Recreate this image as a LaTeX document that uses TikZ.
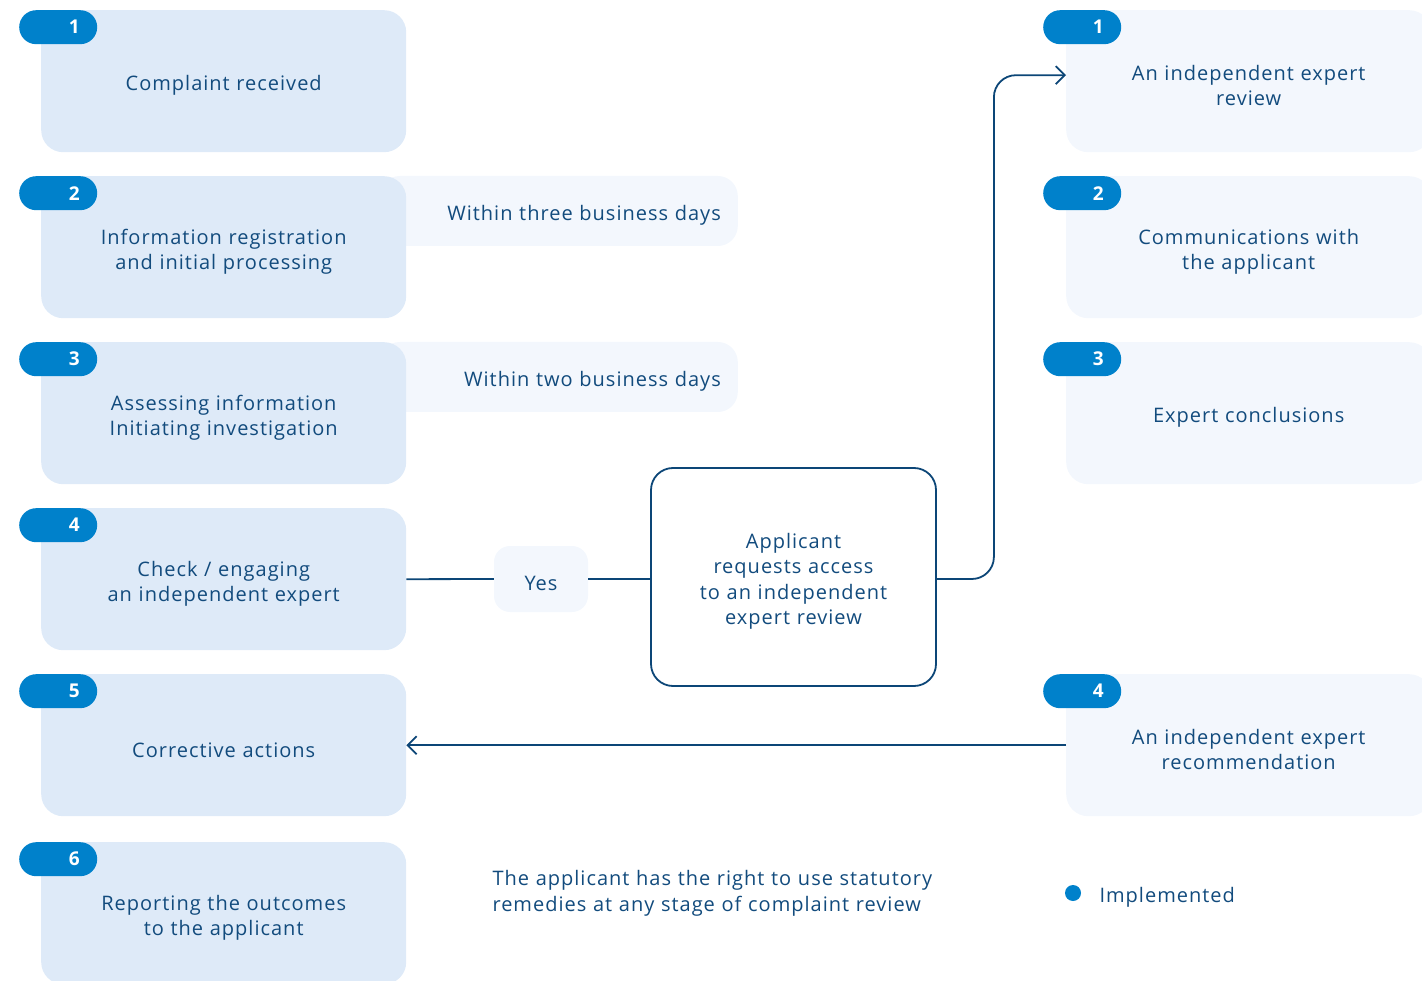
\documentclass[tikz,border=0pt]{standalone}
\usepackage{fontspec}
\setmainfont[LetterSpace=5]{Open Sans}
\usetikzlibrary{arrows.meta,positioning}
\definecolor{stepfill}{HTML}{DEEAF8}
\definecolor{palefill}{HTML}{F3F7FD}
\definecolor{badgeblue}{HTML}{0081CB}
\definecolor{inkblue}{HTML}{124B7D}
\definecolor{lineblue}{HTML}{0C4677}

\begin{document}
\begin{tikzpicture}[
  x=1pt, y=-1pt,
  every node/.style={font=\fontsize{20}{25.5}\selectfont, text=inkblue},
  txt/.style={align=center, execute at begin node={\rule{0pt}{24pt}}},
  stepbox/.style={txt, fill=stepfill, rounded corners=22pt, minimum width=365pt, minimum height=142pt, text width=340pt, anchor=north west, inner sep=0pt},
  expertbox/.style={stepbox, fill=palefill},
  badge/.style={fill=badgeblue, rounded corners=17pt, minimum width=78pt, minimum height=34pt, anchor=north west, inner sep=0pt, text=white, font=\fontsize{19}{22}\selectfont\bfseries},
  note/.style={txt, fill=palefill, rounded corners=20pt, minimum height=70pt, text width=324pt, inner xsep=17pt, align=right, anchor=east},
  flow/.style={draw=lineblue, line width=1.8pt},
  tip/.style={-{Straight Barb[length=9pt, width=18pt, line width=1.8pt]}}]
\useasboundingbox (0,0) rectangle (1422,981);

% side notes (behind the steps)
\node[note] (n2) at (738,211) {Within three business days};
\node[note] (n3) at (738,377) {Within two business days};

% left column
\node[stepbox] (l1) at (41,10)  {Complaint received};
\node[stepbox] (l2) at (41,176) {Information registration\\and initial processing};
\node[stepbox] (l3) at (41,342) {Assessing information\\Initiating investigation};
\node[stepbox] (l4) at (41,508) {Check / engaging\\an independent expert};
\node[stepbox] (l5) at (41,674) {Corrective actions};
\node[stepbox] (l6) at (41,842) {Reporting the outcomes\\to the applicant};
\foreach \n/\y in {1/10, 2/176, 3/342, 4/508, 5/674, 6/842}
  \node[badge] (lb\n) at (19,\y) {\hspace*{32pt}\n};

% right column
\node[expertbox] (r1) at (1066,10)  {An independent expert\\review};
\node[expertbox] (r2) at (1066,176) {Communications with\\the applicant};
\node[expertbox] (r3) at (1066,342) {Expert conclusions};
\node[expertbox] (r4) at (1066,674) {An independent expert\\recommendation};
\foreach \n/\y in {1/10, 2/176, 3/342, 4/674}
  \node[badge] (rb\n) at (1043,\y) {\hspace*{32pt}\n};

% request
\node[txt, draw=lineblue, line width=1.8pt, rounded corners=22pt, minimum width=285pt, minimum height=218pt, text width=250pt] (req) at (793.5,577) {Applicant\\requests access\\to an independent\\expert review};
\node[txt, fill=palefill, rounded corners=16pt, minimum width=94pt, minimum height=66pt] (yes) at (541,579) {Yes};

\draw[flow] (l4.east) -- (yes.west);
\draw[flow] (yes.east) -- (req.west |- yes.east);
\draw[flow, tip, rounded corners=22pt] (req.east |- yes.east) -- ++(57,0) |- ([yshift=6pt]r1.west);
\draw[flow, tip] (r4.west) -- (l5.east);

% footer
\node[txt, anchor=west, align=left, text width=470pt] (remedy) at (489,889) {The applicant has the right to use statutory\\remedies at any stage of complaint review};
\node[circle, fill=badgeblue, minimum size=16pt, inner sep=0pt] (dot) at (1073,893) {};
\node[txt, anchor=west] (impl) at (1096,893) {Implemented};
\end{tikzpicture}
\end{document}
